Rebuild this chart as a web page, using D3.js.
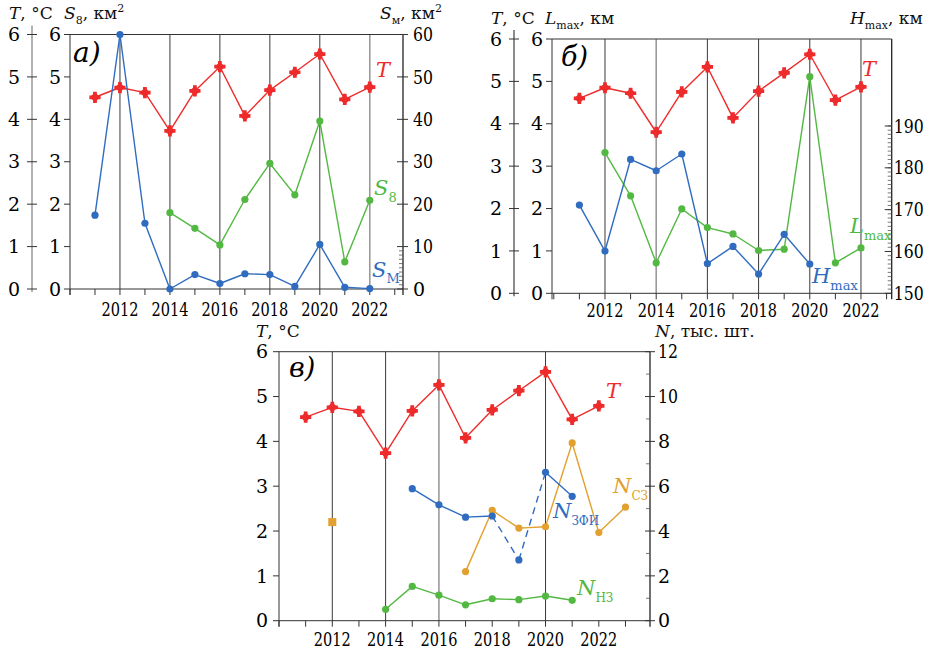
<!DOCTYPE html>
<html>
<head>
<meta charset="utf-8">
<script src="https://cdn.jsdelivr.net/npm/d3@7"></script>
<style>
  body { margin: 0; background: #fff; }
  svg { display: block; }
</style>
</head>
<body>
<div id="chart"></div>
<script>
// данные
const yearsAll = [2011, 2012, 2013, 2014, 2015, 2016, 2017, 2018, 2019, 2020, 2021, 2022];

// температура (каждая панель чуть отличается на рисунке)
const tempA = [4.52, 4.75, 4.63, 3.73, 4.67, 5.24, 4.08, 4.69, 5.11, 5.54, 4.47, 4.76];
const tempB = [4.60, 4.85, 4.72, 3.80, 4.75, 5.34, 4.14, 4.77, 5.20, 5.64, 4.56, 4.87];
const tempC = [4.54, 4.76, 4.67, 3.74, 4.68, 5.26, 4.08, 4.70, 5.13, 5.55, 4.49, 4.79];

// панель а)
const s8Years = [2014, 2015, 2016, 2017, 2018, 2019, 2020, 2021, 2022];
const s8 = [1.80, 1.43, 1.04, 2.11, 2.96, 2.22, 3.96, 0.64, 2.09];
const smYears = yearsAll;
const sm = [17.4, 60, 15.5, 0, 3.4, 1.3, 3.6, 3.4, 0.6, 10.5, 0.4, 0.1];

// панель б)
const lmaxYears = [2012, 2013, 2014, 2015, 2016, 2017, 2018, 2019, 2020, 2021, 2022];
const lmax = [3.32, 2.30, 0.72, 1.99, 1.55, 1.40, 1.01, 1.04, 5.11, 0.72, 1.07];
const hmaxYears = [2011, 2012, 2013, 2014, 2015, 2016, 2017, 2018, 2019, 2020];
const hmax = [171.1, 160.1, 182.0, 179.3, 183.3, 157.1, 161.2, 154.6, 164.1, 157.0];

// панель в)
const nzfiYears = [2015, 2016, 2017, 2018, 2019, 2020, 2021];
const nzfi = [5.89, 5.17, 4.62, 4.67, 2.71, 6.62, 5.55];
const nzfiDashed = [2019]; // точка, к которой линия идёт пунктиром
const nszYears = [2017, 2018, 2019, 2020, 2021, 2022, 2023];
const nsz = [2.19, 4.92, 4.13, 4.19, 7.93, 3.93, 5.07];
const nszSingleYear = [2012];
const nszSingle = [4.40];
const nnzYears = [2014, 2015, 2016, 2017, 2018, 2019, 2020, 2021];
const nnz = [0.51, 1.53, 1.14, 0.71, 0.98, 0.94, 1.10, 0.91];

// подписи осей
const tTicks = [0, 1, 2, 3, 4, 5, 6];
const yearLabels = [2012, 2014, 2016, 2018, 2020, 2022];
const smTicks = [0, 10, 20, 30, 40, 50, 60];
const hmaxTicks = [150, 160, 170, 180, 190];
const nTicks = [0, 2, 4, 6, 8, 10, 12];

const RED = "#ee2b2b", BLUE = "#2f6cc0", GREEN = "#52b842", ORANGE = "#e2a02e";
const SERIF = "'DejaVu Serif', 'Liberation Serif', 'Times New Roman', serif";

const svg = d3.select("#chart").append("svg")
  .attr("width", 929).attr("height", 651)
  .style("font-family", SERIF);

const zip = (xs, ys) => xs.map((x, i) => ({ x: x, y: ys[i] }));

// рамка панели: ось слева, верх, низ с засечками, вертикальные линии
const frame = (p) => {
  const g = svg.append("g");
  const [x0, x1] = p.x.range();
  const [yb, yt] = p.y.range();
  // сетка
  p.grid.forEach(yr => {
    g.append("line")
      .attr("x1", p.x(yr)).attr("x2", p.x(yr))
      .attr("y1", yt).attr("y2", yb)
      .attr("stroke", p.greyGrid.includes(yr) ? "#9a9a9a" : "#3a3a3a")
      .attr("stroke-width", p.greyGrid.includes(yr) ? 1.6 : 1);
  });
  // верх
  g.append("line").attr("x1", x0).attr("x2", x1).attr("y1", yt).attr("y2", yt).attr("stroke", "#333");
  // низ
  g.append("line").attr("x1", x0).attr("x2", x1).attr("y1", yb).attr("y2", yb).attr("stroke", "#333");
  d3.range(Math.ceil(p.x.domain()[0]), Math.floor(p.x.domain()[1]) + 1).forEach(yr => {
    g.append("line").attr("x1", p.x(yr)).attr("x2", p.x(yr)).attr("y1", yb).attr("y2", yb + 6).attr("stroke", "#333");
  });
  yearLabels.forEach(yr => {
    g.append("text")
      .attr("x", p.x(yr)).attr("y", yb + p.yearDy)
      .attr("text-anchor", "middle")
      .attr("font-size", 19)
      .attr("textLength", 37).attr("lengthAdjust", "spacingAndGlyphs")
      .text(yr);
  });
  // внутренняя левая ось
  g.append("line").attr("x1", x0).attr("x2", x0).attr("y1", yt).attr("y2", yb + 6).attr("stroke", "#333");
  tTicks.forEach(t => {
    g.append("line").attr("x1", x0 - 6).attr("x2", x0).attr("y1", p.y(t)).attr("y2", p.y(t)).attr("stroke", "#333");
    g.append("text").attr("x", p.innerLabelX).attr("y", p.y(t)).attr("dy", "0.35em")
      .attr("text-anchor", "middle").attr("font-size", 19).text(t);
  });
  // внешняя ось T
  if (p.outerX) {
    g.append("line").attr("x1", p.outerX).attr("x2", p.outerX).attr("y1", yt - 9).attr("y2", yb + 3)
      .attr("stroke", p.outerColor).attr("stroke-width", 1.5);
    tTicks.forEach(t => {
      g.append("line").attr("x1", p.outerX - 5).attr("x2", p.outerX + 5).attr("y1", p.y(t)).attr("y2", p.y(t)).attr("stroke", "#333");
      g.append("text").attr("x", p.outerLabelX).attr("y", p.y(t)).attr("dy", "0.35em")
        .attr("text-anchor", "middle").attr("font-size", 19).text(t);
    });
  }
  // правая ось
  g.append("line").attr("x1", x1).attr("x2", x1).attr("y1", yt).attr("y2", yb + 6).attr("stroke", "#222").attr("stroke-width", 1.3);
  p.minor.forEach(v => {
    g.append("line").attr("x1", x1 - 4).attr("x2", x1).attr("y1", p.y2(v)).attr("y2", p.y2(v)).attr("stroke", "#555").attr("stroke-width", 0.8);
  });
  p.rightTicks.forEach(v => {
    g.append("line").attr("x1", x1 - p.majorIn).attr("x2", x1 + p.majorOut).attr("y1", p.y2(v)).attr("y2", p.y2(v)).attr("stroke", "#333");
    const t = g.append("text").attr("x", x1 + p.rightLabelGap).attr("y", p.y2(v)).attr("dy", "0.35em")
      .attr("font-size", 19).text(v);
    if (String(v).length > 1) t.attr("textLength", String(v).length * 10).attr("lengthAdjust", "spacingAndGlyphs");
  });
  return g;
};

const series = (xs, y, data, color, opts = {}) => {
  const g = svg.append("g");
  const pts = data.filter(d => d.y != null);
  for (let i = 1; i < pts.length; i++) {
    const dashed = opts.dashedTo && (opts.dashedTo.includes(pts[i].x) || opts.dashedTo.includes(pts[i - 1].x));
    g.append("line")
      .attr("x1", xs(pts[i - 1].x)).attr("y1", y(pts[i - 1].y))
      .attr("x2", xs(pts[i].x)).attr("y2", y(pts[i].y))
      .attr("stroke", color).attr("stroke-width", 1.4)
      .attr("stroke-dasharray", dashed ? "7,5" : null);
  }
  if (opts.marker === "cross") {
    g.selectAll(".c").data(pts).join("path")
      .attr("transform", d => `translate(${xs(d.x)},${y(d.y)})`)
      .attr("d", d3.symbol(d3.symbolCross, 70)).attr("fill", color);
    g.selectAll(".s").data(pts).join("path")
      .attr("transform", d => `translate(${xs(d.x)},${y(d.y)}) rotate(45)`)
      .attr("d", d3.symbol(d3.symbolSquare, 52)).attr("fill", color);
  } else if (opts.marker === "square") {
    g.selectAll("rect").data(pts).join("rect")
      .attr("x", d => xs(d.x) - 4).attr("y", d => y(d.y) - 4)
      .attr("width", 8).attr("height", 8).attr("fill", color);
  } else {
    g.selectAll("circle").data(pts).join("circle")
      .attr("cx", d => xs(d.x)).attr("cy", d => y(d.y)).attr("r", 3.6).attr("fill", color);
  }
};

// надпись вида «Буква_индекс»
const label = (x, y, main, sub, color, size, subSize, subDy) => {
  const t = svg.append("text").attr("x", x).attr("y", y).attr("fill", color).attr("font-size", size);
  t.append("tspan").attr("font-style", "italic").text(main);
  if (sub) t.append("tspan").attr("font-size", subSize).attr("dy", subDy).text(sub);
  return t;
};

const header = (x, y, main, sub, rest, sup) => {
  const t = svg.append("text").attr("x", x).attr("y", y).attr("font-size", 17).attr("fill", "#111");
  t.append("tspan").attr("font-style", "italic").text(main);
  if (sub) t.append("tspan").attr("font-size", 11).attr("dy", 5).text(sub);
  t.append("tspan").attr("dy", sub ? -5 : 0).text(rest);
  if (sup) t.append("tspan").attr("font-size", 11).attr("dy", -7).text(sup);
};

// ---------- панель а) ----------
const xA = d3.scaleLinear().domain([2010, 2023.33]).range([70, 403]);
const yA = d3.scaleLinear().domain([0, 6]).range([289, 34.5]);
const yA2 = d3.scaleLinear().domain([0, 60]).range([289, 34.5]);
frame({
  x: xA, y: yA, y2: yA2, yearDy: 27,
  grid: yearLabels, greyGrid: [2022],
  innerLabelX: 55, outerX: 32, outerLabelX: 14, outerColor: "#999",
  minor: d3.range(1, 10), rightTicks: smTicks, majorIn: 6, majorOut: 5, rightLabelGap: 10
});
series(xA, yA, zip(yearsAll, tempA), RED, { marker: "cross" });
series(xA, yA, zip(s8Years, s8), GREEN);
series(xA, yA2, zip(smYears, sm), BLUE);
svg.append("text").attr("x", 73).attr("y", 62)
  .attr("font-size", 28).attr("font-style", "italic").text("a)");
label(376, 77, "T", null, RED, 21);
label(374, 195, "S", "8", GREEN, 21, 13, 7);
label(372, 277, "S", "М", BLUE, 21, 13, 6);
header(9, 19, "T", null, ", °C");
header(64, 19, "S", "8", ", км", "2");
header(380, 19, "S", "м", ", км", "2");

// ---------- панель б) ----------
const xB = d3.scaleLinear().domain([2009.93, 2023.2]).range([552, 891.7]);
const yB = d3.scaleLinear().domain([0, 6]).range([293.3, 39]);
const yB2 = d3.scaleLinear().domain([150, 210.8]).range([293.3, 39]);
frame({
  x: xB, y: yB, y2: yB2, yearDy: 24,
  grid: yearLabels, greyGrid: [2014],
  innerLabelX: 537, outerX: 514, outerLabelX: 496, outerColor: "#666",
  minor: d3.range(151, 191), rightTicks: hmaxTicks, majorIn: 7, majorOut: 0, rightLabelGap: 2
});
series(xB, yB, zip(yearsAll, tempB), RED, { marker: "cross" });
series(xB, yB, zip(lmaxYears, lmax), GREEN);
series(xB, yB2, zip(hmaxYears, hmax), BLUE);
svg.append("text").attr("x", 561).attr("y", 66)
  .attr("font-size", 27).attr("font-style", "italic").text("б)");
label(862, 76, "T", null, RED, 21);
label(850, 233, "L", "max", GREEN, 21, 13, 7);
label(812, 283, "H", "max", BLUE, 21, 13, 7);
header(491, 24, "T", null, ", °C");
header(545, 24, "L", "max", ", км");
header(850, 24, "H", "max", ", км");

// ---------- панель в) ----------
const xC = d3.scaleLinear().domain([2010, 2023.92]).range([279, 650]);
const yC = d3.scaleLinear().domain([0, 6]).range([620.7, 351.7]);
const yC2 = d3.scaleLinear().domain([0, 12]).range([620.7, 351.7]);
frame({
  x: xC, y: yC, y2: yC2, yearDy: 25,
  grid: [2012, 2014, 2016, 2020], greyGrid: [2016],
  innerLabelX: 262, outerX: null,
  minor: [1, 3, 5, 7, 9, 11], rightTicks: nTicks, majorIn: 5, majorOut: 5, rightLabelGap: 8
});
series(xC, yC, zip(yearsAll, tempC), RED, { marker: "cross" });
series(xC, yC2, zip(nnzYears, nnz), GREEN);
series(xC, yC2, zip(nszYears, nsz), ORANGE);
series(xC, yC2, zip(nszSingleYear, nszSingle), ORANGE, { marker: "square" });
series(xC, yC2, zip(nzfiYears, nzfi), BLUE, { dashedTo: nzfiDashed });
svg.append("text").attr("x", 289).attr("y", 377)
  .attr("font-size", 27).attr("font-style", "italic").text("в)");
label(606, 398, "T", null, RED, 21);
label(613, 493, "N", "СЗ", ORANGE, 21, 12, 7);
label(553, 518, "N", "ЗФИ", BLUE, 21, 12, 7);
label(577, 595, "N", "НЗ", GREEN, 21, 12, 7);
header(256, 337, "T", null, ", °C");
header(655, 337, "N", null, ", тыс. шт.");
</script>
</body>
</html>
